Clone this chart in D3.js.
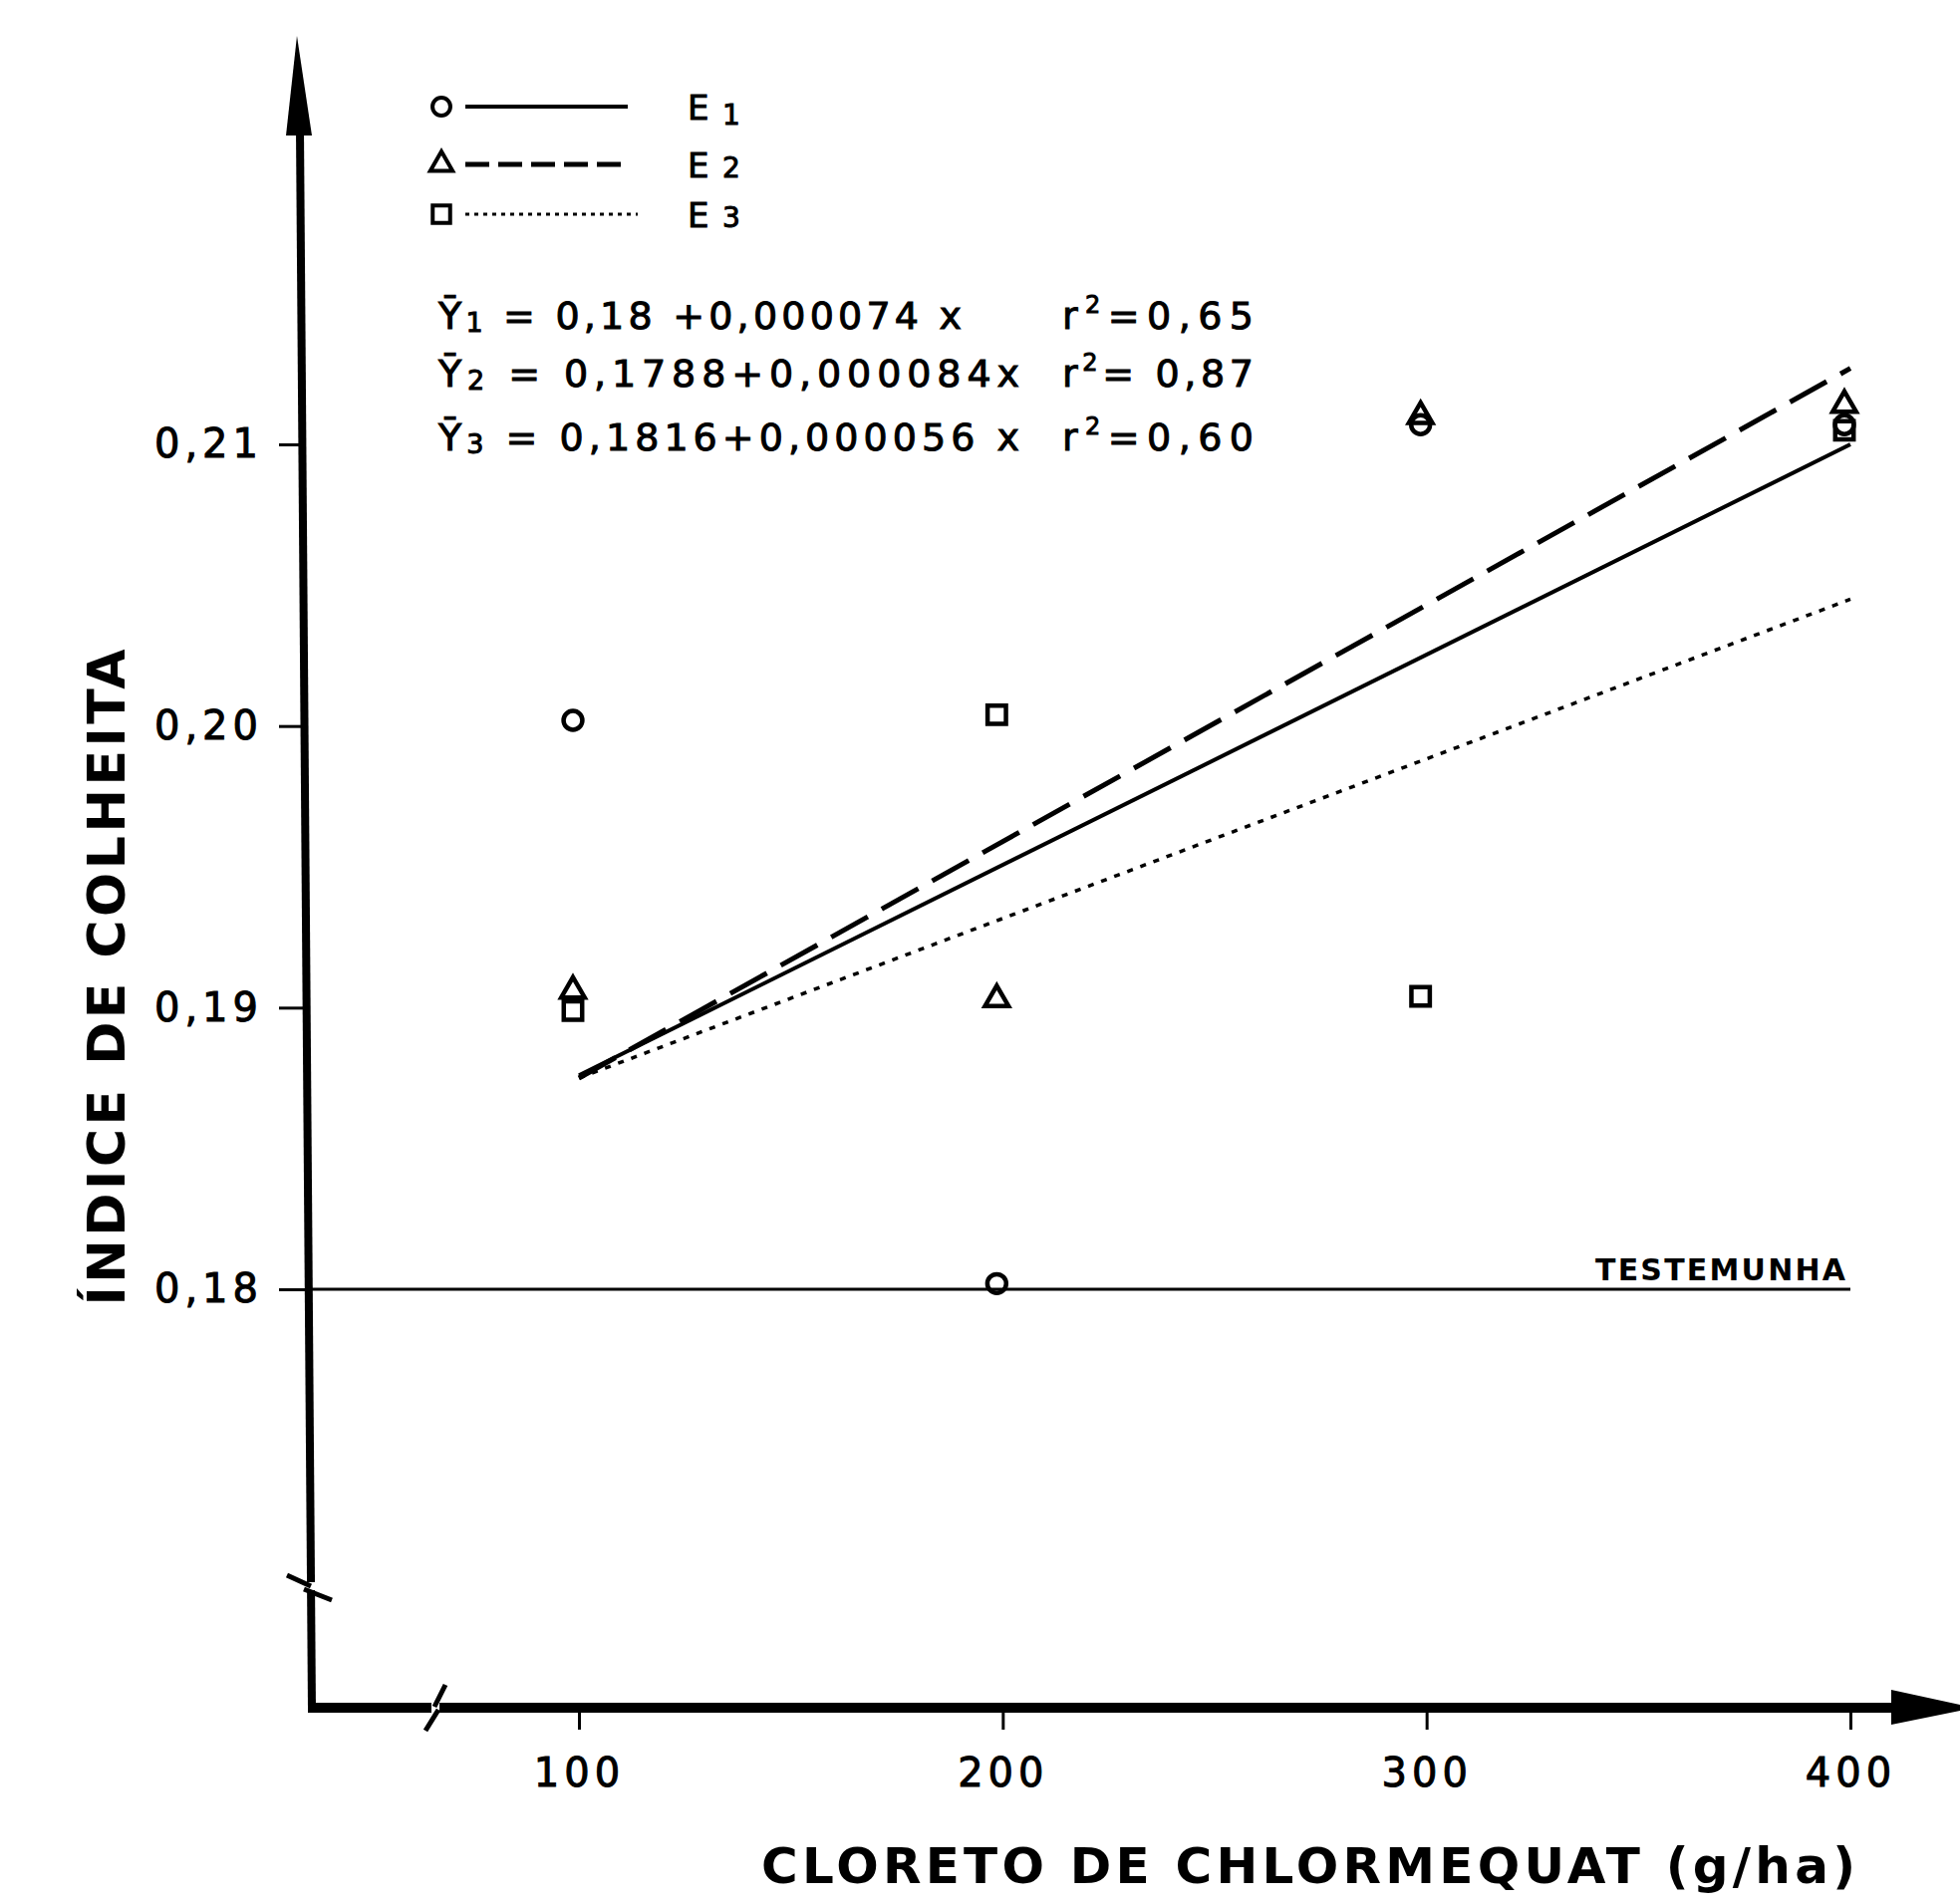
<!DOCTYPE html>
<html lang="pt">
<head>
<meta charset="UTF-8">
<title>Índice de colheita x cloreto de chlormequat</title>
<script src="https://d3js.org/d3.v7.min.js"></script>
<style>
  body { margin: 0; background: #fff; }
  svg { display: block; }
  text { font-family: "DejaVu Sans", sans-serif; fill: #000; }
  .heavy { stroke: #000; stroke-width: 1px; }
</style>
</head>
<body>
<div id="chart"></div>
<script>
// valores
var doses = [100, 200, 300, 400];
var e1Values = [0.2002, 0.1802, 0.2107, 0.2107];
var e2Values = [0.1906, 0.1903, 0.2110, 0.2114];
var e3Values = [0.1899, 0.2004, 0.1904, 0.2105];

// retas ajustadas (extremos)
var fitDoses = [100, 400];
var e1Fit = [0.1876, 0.2100];
var e2Fit = [0.1875, 0.2127];
var e3Fit = [0.1875, 0.2045];

var controlValue = 0.18;
var xTicks = [100, 200, 300, 400];
var yTicks = [0.18, 0.19, 0.20, 0.21];

var seriesNames = ["E", "E", "E"];
var seriesIdx = ["1", "2", "3"];
var intercepts = ["0,18 +0,000074 x", "0,1788+0,000084x", "0,1816+0,000056 x"];
var rSquared = ["=0,65", "= 0,87", "=0,60"];

var width = 1967, height = 1911;

var svg = d3.select("#chart").append("svg")
    .attr("width", width)
    .attr("height", height);

svg.append("rect").attr("width", width).attr("height", height).attr("fill", "#fff");

var x = d3.scaleLinear().domain([100, 400]).range([581, 1857]);
var y = d3.scaleLinear().domain([0.18, 0.21]).range([1294, 446]);

var fmt = function(d) { return d.toFixed(2).replace(".", ","); };

// eixo y (ticks)
var yAxis = svg.append("g")
    .attr("transform", "translate(306,0)")
    .call(d3.axisLeft(y).tickValues(yTicks).tickSize(26).tickPadding(16).tickFormat(fmt));
yAxis.select(".domain").remove();
yAxis.selectAll("line").attr("stroke", "#000").attr("stroke-width", 3);
yAxis.selectAll("text")
    .attr("class", "heavy")
    .attr("font-size", 40)
    .attr("letter-spacing", "5px")
    .attr("font-family", "DejaVu Sans")
    .attr("fill", "#000");

// eixo x (ticks)
var xAxis = svg.append("g")
    .attr("transform", "translate(0,1714)")
    .call(d3.axisBottom(x).tickValues(xTicks).tickSize(22).tickPadding(29).tickFormat(d3.format("d")));
xAxis.select(".domain").remove();
xAxis.selectAll("line").attr("stroke", "#000").attr("stroke-width", 3);
xAxis.selectAll("text")
    .attr("class", "heavy")
    .attr("font-size", 40)
    .attr("letter-spacing", "5px")
    .attr("font-family", "DejaVu Sans")
    .attr("fill", "#000");

// linhas dos eixos com setas
svg.append("line")
    .attr("x1", 301).attr("y1", 130).attr("x2", 313).attr("y2", 1716)
    .attr("stroke", "#000").attr("stroke-width", 8);
svg.append("path")
    .attr("d", "M298,36 L287,136 L313,136 Z")
    .attr("fill", "#000");
svg.append("line")
    .attr("x1", 309).attr("y1", 1714).attr("x2", 1905).attr("y2", 1714)
    .attr("stroke", "#000").attr("stroke-width", 10);
svg.append("path")
    .attr("d", "M1898,1696 L1967,1711 L1967,1717 L1898,1731 Z")
    .attr("fill", "#000");

// quebras dos eixos
svg.append("rect").attr("x", 300).attr("y", 1588).attr("width", 18).attr("height", 8).attr("fill", "#fff");
svg.append("path")
    .attr("d", "M288,1581 L312,1592 M305,1595 L333,1606")
    .attr("stroke", "#000").attr("stroke-width", 5).attr("fill", "none");
svg.append("rect").attr("x", 433).attr("y", 1706).attr("width", 8).attr("height", 16).attr("fill", "#fff");
svg.append("path")
    .attr("d", "M447,1691 L436,1713 M440,1716 L427,1737")
    .attr("stroke", "#000").attr("stroke-width", 5).attr("fill", "none");

// testemunha
svg.append("line")
    .attr("x1", 308).attr("x2", x(400))
    .attr("y1", y(controlValue)).attr("y2", y(controlValue))
    .attr("stroke", "#000").attr("stroke-width", 3);
svg.append("text")
    .attr("x", 1601).attr("y", y(controlValue) - 9)
    .attr("font-size", 30).attr("font-weight", "bold")
    .attr("textLength", 251).attr("lengthAdjust", "spacing")
    .text("TESTEMUNHA");

// retas ajustadas
var lineStyles = [
  {values: e1Fit, dash: null, w: 4},
  {values: e2Fit, dash: "42,16", w: 5},
  {values: e3Fit, dash: "6,8", w: 3.5}
];
var line = d3.line().x(function(d) { return x(d[0]); }).y(function(d) { return y(d[1]); });
lineStyles.forEach(function(s) {
  svg.append("path")
      .datum(d3.zip(fitDoses, s.values))
      .attr("d", line)
      .attr("fill", "none")
      .attr("stroke", "#000")
      .attr("stroke-width", s.w)
      .attr("stroke-dasharray", s.dash);
});

// pontos
var symbols = [d3.symbolCircle, d3.symbolTriangle, d3.symbolSquare];
var symSizes = [280, 240, 340];
var allValues = [e1Values, e2Values, e3Values];
allValues.forEach(function(vals, i) {
  svg.append("g").selectAll("path")
      .data(d3.zip(doses, vals))
      .enter().append("path")
      .attr("d", d3.symbol().type(symbols[i]).size(symSizes[i]))
      .attr("transform", function(d) { return "translate(" + (x(d[0]) - 6) + "," + y(d[1]) + ")"; })
      .attr("fill", "none")
      .attr("stroke", "#000")
      .attr("stroke-width", 4.5);
});

// legenda
var legendY = [107, 165, 215];
var legendDash = [null, "24,9", "4,5"];
var legendW = [4, 5, 3];
legendY.forEach(function(ly, i) {
  svg.append("path")
      .attr("d", d3.symbol().type(symbols[i]).size(symSizes[i] * 0.9))
      .attr("transform", "translate(443," + ly + ")")
      .attr("fill", "none").attr("stroke", "#000").attr("stroke-width", 4);
  svg.append("line")
      .attr("x1", 467).attr("x2", i == 2 ? 640 : 630)
      .attr("y1", ly).attr("y2", ly)
      .attr("stroke", "#000").attr("stroke-width", legendW[i])
      .attr("stroke-dasharray", legendDash[i]);
  var t = svg.append("text")
      .attr("class", "heavy")
      .attr("x", 690).attr("y", ly + 13)
      .attr("font-size", 34);
  t.append("tspan").text(seriesNames[i]);
  t.append("tspan").attr("x", 725).attr("dy", i == 0 ? 5 : 0).attr("font-size", 28).text(seriesIdx[i]);
});

// equações
var eqY = [330, 388, 452];
var eqLen = [525, 583, 583];
eqY.forEach(function(ey, i) {
  var t = svg.append("text")
      .attr("class", "heavy")
      .attr("x", 440).attr("y", ey)
      .attr("font-size", 38)
      .attr("textLength", eqLen[i]).attr("lengthAdjust", "spacing");
  t.append("tspan").text("\u0232");
  t.append("tspan").attr("font-size", 27).attr("dy", 3).text(seriesIdx[i]);
  t.append("tspan").attr("dy", -3).text(" = " + intercepts[i]);

  var r = svg.append("text")
      .attr("class", "heavy")
      .attr("x", 1066).attr("y", ey)
      .attr("font-size", 38)
      .attr("textLength", 192).attr("lengthAdjust", "spacing");
  r.append("tspan").text("r");
  r.append("tspan").attr("font-size", 24).attr("dy", -16).text("2");
  r.append("tspan").attr("dy", 16).text(rSquared[i]);
});

// títulos dos eixos
svg.append("text")
    .attr("transform", "translate(125,981) rotate(-90)")
    .attr("text-anchor", "middle")
    .attr("font-size", 52).attr("font-weight", "bold")
    .attr("textLength", 659).attr("lengthAdjust", "spacing")
    .text("ÍNDICE DE COLHEITA");

svg.append("text")
    .attr("x", 764).attr("y", 1890)
    .attr("font-size", 50).attr("font-weight", "bold")
    .attr("textLength", 1098).attr("lengthAdjust", "spacing")
    .text("CLORETO DE CHLORMEQUAT (g/ha)");
</script>
</body>
</html>
